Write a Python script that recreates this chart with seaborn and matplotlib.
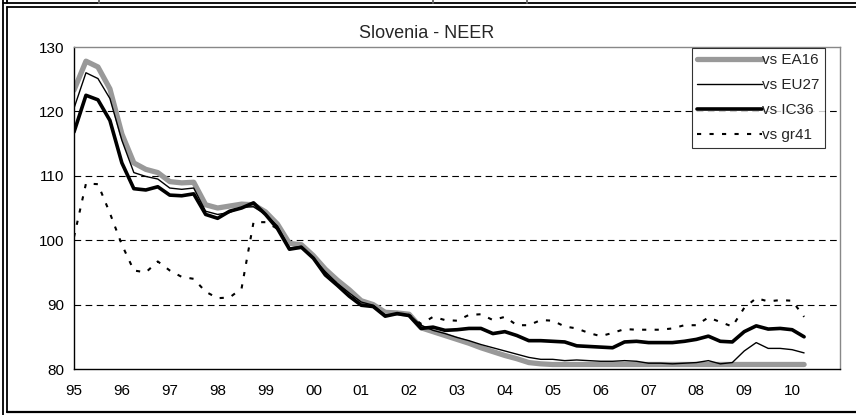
import numpy as np
import pandas as pd
import matplotlib
matplotlib.use('Agg')
import matplotlib.pyplot as plt
from matplotlib.lines import Line2D
import seaborn as sns

start_year = 1995
n_obs = 62

ea16 = [123.3, 127.8, 126.9, 123.5, 116.5, 112.0, 111.0, 110.5, 109.1, 108.9,
        109.0, 105.5, 105.0, 105.3, 105.6, 105.5, 104.4, 102.5, 99.5, 99.3,
        97.6, 95.5, 93.8, 92.3, 90.6, 90.0, 88.8, 88.7, 88.5, 86.4,
        85.8, 85.2, 84.6, 84.0, 83.3, 82.7, 82.1, 81.6, 81.0, 80.8,
        80.7, 80.7, 80.7, 80.7, 80.7, 80.7, 80.7, 80.7, 80.7, 80.7,
        80.7, 80.7, 80.7, 80.7, 80.7, 80.7, 80.7, 80.7, 80.7, 80.7,
        80.7, 80.7]
eu27 = [120.5, 126.0, 125.1, 122.0, 115.5, 110.5, 109.9, 109.5, 108.1, 107.9,
        108.1, 104.5, 104.0, 104.3, 105.1, 105.2, 104.0, 102.2, 98.8, 99.0,
        97.2, 95.1, 93.3, 91.8, 90.4, 89.9, 88.4, 88.5, 88.4, 86.8,
        86.0, 85.5, 84.9, 84.4, 83.8, 83.3, 82.8, 82.3, 81.8, 81.5,
        81.5, 81.3, 81.4, 81.3, 81.2, 81.2, 81.3, 81.2, 80.9, 80.9,
        80.8, 80.9, 81.0, 81.3, 80.8, 81.0, 82.8, 84.1, 83.2, 83.2,
        83.0, 82.5]
ic36 = [116.8, 122.5, 121.8, 118.6, 112.0, 108.0, 107.8, 108.3, 107.0, 106.9,
        107.2, 104.0, 103.4, 104.5, 105.0, 105.8, 104.0, 101.8, 98.6, 98.9,
        97.2, 94.6, 93.0, 91.3, 89.9, 89.7, 88.2, 88.6, 88.3, 86.3,
        86.5, 86.0, 86.1, 86.3, 86.3, 85.5, 85.8, 85.2, 84.4, 84.4,
        84.3, 84.2, 83.6, 83.5, 83.4, 83.3, 84.2, 84.3, 84.1, 84.1,
        84.1, 84.3, 84.6, 85.1, 84.3, 84.2, 85.8, 86.7, 86.2, 86.3,
        86.1, 85.0]
gr41 = [100.5, 108.8, 108.7, 104.2, 99.3, 95.3, 95.0, 96.7, 95.3, 94.3,
        94.0, 92.0, 91.0, 91.1, 92.5, 102.8, 102.8, 101.8, 98.7, 99.0,
        97.2, 94.8, 93.2, 91.5, 90.0, 89.8, 88.3, 88.6, 88.4, 87.0,
        88.1, 87.6, 87.5, 88.4, 88.5, 87.6, 88.1, 86.8, 86.8, 87.6,
        87.5, 86.6, 86.3, 85.6, 85.1, 85.6, 86.2, 86.1, 86.1, 86.1,
        86.3, 86.8, 86.8, 88.0, 87.3, 86.6, 89.5, 91.0, 90.5, 90.7,
        90.6, 88.1]

year_ticks = list(range(1995, 2012))
year_labels = ['95', '96', '97', '98', '99', '00', '01', '02', '03', '04',
               '05', '06', '07', '08', '09', '10', '']
y_ticks = [80, 90, 100, 110, 120, 130]

t = start_year + np.arange(n_obs) / 4.0
df = pd.DataFrame({'t': t, 'vs EA16': ea16, 'vs EU27': eu27,
                   'vs IC36': ic36, 'vs gr41': gr41})

sns.set_style('white')
plt.rcParams['font.family'] = ['Liberation Sans', 'DejaVu Sans']

fig = plt.figure(figsize=(8.56, 4.15), dpi=100)
ax = fig.add_axes([74 / 856, 1 - 369 / 415, 766 / 856, 322 / 415])

styles = {
    'vs EA16': dict(color='#999999', linewidth=3.8),
    'vs EU27': dict(color='black', linewidth=1.0),
    'vs IC36': dict(color='black', linewidth=2.6),
    'vs gr41': dict(color='black', linewidth=1.5, dashes=(2, 4)),
}
for name, st in styles.items():
    sns.lineplot(data=df, x='t', y=name, ax=ax, label=name, **st)

ax.set_xlim(1995, 2011)
ax.set_ylim(80, 130)
ax.set_xticks(year_ticks)
ax.set_xticklabels(year_labels)
ax.set_yticks(y_ticks)
ax.set_xlabel('')
ax.set_ylabel('')
ax.tick_params(axis='both', direction='out', length=4, width=1,
               labelsize=11, colors='black', pad=7)
ax.tick_params(axis='y', pad=3)
for v in y_ticks[1:-1]:
    ax.axhline(v, color='black', linewidth=0.8, dashes=(6, 4), zorder=0)

ax.spines['left'].set_color('black')
ax.spines['bottom'].set_color('black')
ax.spines['top'].set_color('#888888')
ax.spines['right'].set_color('#888888')
for s in ax.spines.values():
    s.set_linewidth(1.0)

leg = ax.legend(loc='upper right', bbox_to_anchor=((825 - 74) / 766, 0.997),
                borderaxespad=0, frameon=True, fancybox=False, fontsize=11,
                handlelength=4.2, handletextpad=0.05, labelspacing=0.72,
                borderpad=0.35)
leg.get_frame().set_edgecolor('black')
leg.get_frame().set_linewidth(0.8)

fig.text(426.5 / 856, 1 - 33 / 415, 'Slovenia - NEER', ha='center',
         va='center', fontsize=13)

# page frame around the chart
def px_line(xs, ys, lw=1.3, color='black'):
    fig.add_artist(Line2D([x / 856 for x in xs], [1 - y / 415 for y in ys],
                          color=color, linewidth=lw, transform=fig.transFigure))

px_line([3, 3], [0, 415])
px_line([7, 7], [0, 3.5])
px_line([7, 7], [7.5, 412])
px_line([3, 856], [3.5, 3.5])
px_line([7, 856], [7.5, 7.5])
px_line([7, 856], [412, 412], lw=1.6)
px_line([99, 99], [0, 3.5], color='#666666')
px_line([433, 433], [0, 3.5], color='#666666')
px_line([527, 527], [0, 3.5], color='#666666')

fig.savefig('out.png', dpi=100)
